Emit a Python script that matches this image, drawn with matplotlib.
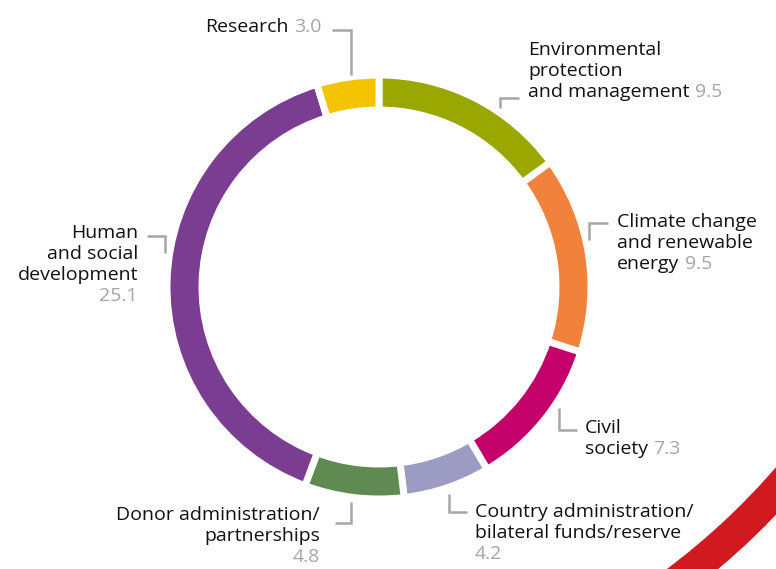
import matplotlib
matplotlib.use("Agg")
import matplotlib.pyplot as plt
import matplotlib.patches as patches

plt.rcParams["font.family"] = ["Open Sans", "DejaVu Sans"]

# ---------------- data ----------------
names = ["Environmental\nprotection\nand management",
         "Climate change\nand renewable\nenergy",
         "Civil\nsociety",
         "Country administration/\nbilateral funds/reserve",
         "Donor administration/\npartnerships",
         "Human\nand social\ndevelopment",
         "Research"]
values = [9.5, 9.5, 7.3, 4.2, 4.8, 25.1, 3.0]
colors = ["#9aa700", "#f0823c", "#c4006a", "#9b9bc4", "#5f8a52", "#7a3d91", "#f5c400"]

TXT = "#111111"
GRAY = "#a9a4a4"
LINE = "#aaa5a5"
RED = "#d01a20"

W, H = 776, 569
def Y(py):
    return H - py

fig = plt.figure(figsize=(W / 100, H / 100), dpi=100)
ax = fig.add_axes([0, 0, 1, 1])

# donut (edge stroke eats 3.5 px on every side)
ax.pie(values, colors=colors, startangle=90, counterclock=False,
       radius=212, center=(379, Y(287)), frame=False,
       wedgeprops=dict(width=35, edgecolor="white", linewidth=5))
ax.set_xlim(0, W)
ax.set_ylim(0, H)
ax.axis("off")

# decorative red band in the corner
ax.add_patch(patches.Wedge((249.5, Y(12)), 728, -62, -30, width=32,
                           fc=RED, ec="none"))

# ---------------- labels ----------------
FS = 14
STEP = 21

# (x, first baseline, ha, value placement, connector polyline)
layout = [
    (528, 55, "left", "inline", [(519, 98), (500, 98), (500, 108)]),
    (617, 227, "left", "inline", [(608, 223), (589, 223), (589, 240)]),
    (585, 433, "left", "inline", [(559, 408), (559, 430), (577, 430)]),
    (475, 517, "left", "below", [(449, 494), (449, 512), (467, 512)]),
    (320, 520, "right", "below", [(335, 523), (351, 523), (351, 502)]),
    (138, 238, "right", "below", [(147, 236), (165, 236), (165, 253)]),
    (205, 32, "left", "inline", [(332, 30), (351, 30), (351, 75)]),
]

for name, val, (x, y0, ha, mode, conn) in zip(names, values, layout):
    lines = name.split("\n")
    last = None
    for i, ln in enumerate(lines):
        last = ax.text(x, Y(y0 + i * STEP), ln, fontsize=FS, color=TXT,
                       ha=ha, va="baseline")
    if mode == "inline":
        ax.annotate(f"{val:.1f}", xy=(1, 0), xycoords=last,
                    xytext=(4, 0), textcoords="offset points",
                    fontsize=FS, color=GRAY, ha="left", va="bottom")
    else:
        ax.text(x, Y(y0 + len(lines) * STEP), f"{val:.1f}", fontsize=FS,
                color=GRAY, ha=ha, va="baseline")
    ax.plot([p[0] for p in conn], [Y(p[1]) for p in conn],
            color=LINE, lw=1.8, solid_capstyle="butt", solid_joinstyle="miter")

fig.savefig("out.png", dpi=100)
